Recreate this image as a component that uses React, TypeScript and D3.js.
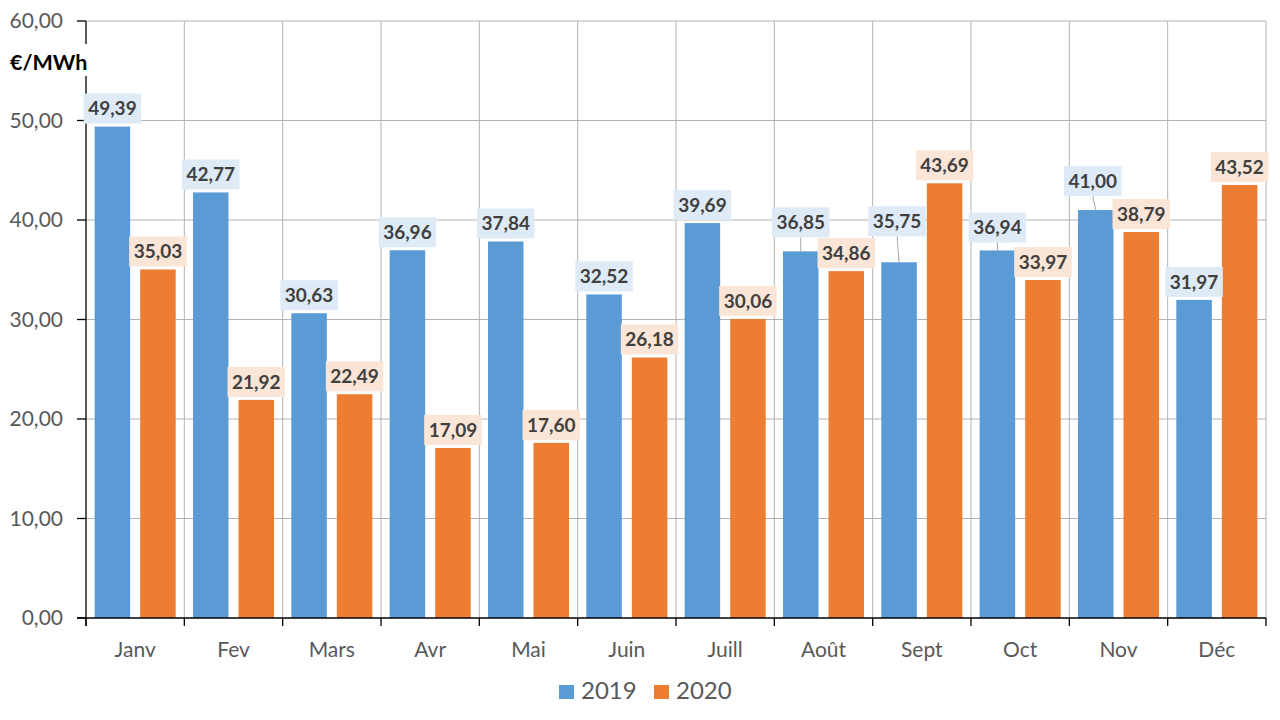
import React, { useEffect, useRef } from 'react'
import * as d3 from 'd3'

const months = ['Janv', 'Fev', 'Mars', 'Avr', 'Mai', 'Juin', 'Juill', 'Août', 'Sept', 'Oct', 'Nov', 'Déc']
const values2019 = [49.39, 42.77, 30.63, 36.96, 37.84, 32.52, 39.69, 36.85, 35.75, 36.94, 41.0, 31.97]
const values2020 = [35.03, 21.92, 22.49, 17.09, 17.6, 26.18, 30.06, 34.86, 43.69, 33.97, 38.79, 43.52]
const yTicks = [0, 10, 20, 30, 40, 50, 60]
const seriesNames = ['2019', '2020']

// labels Excel moved up to avoid overlaps (px lift, px shift)
const lift2019 = [0, 0, 0, 0, 0, 0, 0, 11, 23, 5, 11, 0]
const shift2019 = [0, 0, 0, 0, 0, 0, 0, 0, -2, 0, -3, 0]

const colors = ['#5B9BD5', '#ED7D31']
const labelBg = ['#DEEBF7', '#FBE5D6']
const font = 'Lato, "Open Sans", sans-serif'

export default function App() {
  const svgRef = useRef<SVGSVGElement>(null)

  useEffect(() => {
    if (!svgRef.current) return
    const svg = d3.select(svgRef.current)
    svg.selectAll('*').remove()

    const left = 86
    const right = 1266
    const top = 21
    const bottom = 618

    const x = d3.scaleBand<string>().domain(months).range([left, right]).padding(0)
    const xs = d3.scaleBand<string>()
      .domain(seriesNames)
      .range([0, x.bandwidth()])
      .paddingInner(0.22)
      .paddingOuter(0.19)
    const y = d3.scaleLinear().domain([0, 60]).range([bottom, top])

    // Horizontal grid
    svg.append('g')
      .selectAll('line')
      .data(yTicks.filter(t => t > 0))
      .enter()
      .append('line')
      .attr('x1', left)
      .attr('x2', right)
      .attr('y1', d => y(d))
      .attr('y2', d => y(d))
      .attr('stroke', '#B3B3B3')
      .attr('stroke-width', 1)

    // Vertical grid at category boundaries
    const bounds = months.map(m => x(m)!).concat([right])
    svg.append('g')
      .selectAll('line')
      .data(bounds.slice(1))
      .enter()
      .append('line')
      .attr('x1', d => d)
      .attr('x2', d => d)
      .attr('y1', top)
      .attr('y2', bottom)
      .attr('stroke', '#B3B3B3')
      .attr('stroke-width', 1)

    // Bars
    const series = [values2019, values2020]
    series.forEach((vals, si) => {
      svg.append('g')
        .selectAll('rect')
        .data(vals)
        .enter()
        .append('rect')
        .attr('x', (_, i) => x(months[i])! + xs(seriesNames[si])!)
        .attr('y', d => y(d))
        .attr('width', xs.bandwidth())
        .attr('height', d => bottom - y(d))
        .attr('fill', colors[si])
    })

    // Axes
    const axis = svg.append('g').attr('stroke', '#000').attr('stroke-width', 1.3)
    axis.append('line').attr('x1', left).attr('x2', left).attr('y1', top).attr('y2', bottom + 8)
    axis.append('line').attr('x1', left - 9).attr('x2', right).attr('y1', bottom).attr('y2', bottom)
    yTicks.forEach(t => {
      axis.append('line').attr('x1', left - 9).attr('x2', left).attr('y1', y(t)).attr('y2', y(t))
    })
    bounds.forEach(b => {
      axis.append('line').attr('x1', b).attr('x2', b).attr('y1', bottom).attr('y2', bottom + 8)
    })

    // Y tick labels
    svg.append('g')
      .selectAll('text')
      .data(yTicks)
      .enter()
      .append('text')
      .attr('x', 63)
      .attr('y', d => y(d))
      .attr('dy', '0.35em')
      .attr('text-anchor', 'end')
      .attr('fill', '#595959')
      .style('font-family', font)
      .style('font-size', '21px')
      .text(d => d3.format('.2f')(d).replace('.', ','))

    // Month labels
    svg.append('g')
      .selectAll('text')
      .data(months)
      .enter()
      .append('text')
      .attr('x', d => x(d)! + x.bandwidth() / 2)
      .attr('y', 657)
      .attr('text-anchor', 'middle')
      .attr('fill', '#595959')
      .style('font-family', font)
      .style('font-size', '21px')
      .text(d => d)

    // Unit label (white box hides the axis behind it)
    svg.append('rect')
      .attr('x', 8)
      .attr('y', 44)
      .attr('width', 82)
      .attr('height', 32)
      .attr('fill', '#fff')
    svg.append('text')
      .attr('x', 10)
      .attr('y', 70)
      .attr('fill', '#000')
      .style('font-family', font)
      .style('font-size', '21.5px')
      .style('font-weight', 'bold')
      .text('€/MWh')

    // Data labels
    series.forEach((vals, si) => {
      vals.forEach((v, i) => {
        const cx = x(months[i])! + xs(seriesNames[si])! + xs.bandwidth() / 2
        const lift = si === 0 ? lift2019[i] : 0
        const dx = si === 0 ? shift2019[i] : 0
        const barTop = y(v)
        const boxBottom = barTop - 3 - lift
        const boxH = 30
        const lx = cx + dx

        if (lift > 0) {
          svg.append('line')
            .attr('x1', cx)
            .attr('x2', lx)
            .attr('y1', barTop)
            .attr('y2', boxBottom)
            .attr('stroke', '#A6A6A6')
            .attr('stroke-width', 1)
        }

        const g = svg.append('g')
        const rect = g.append('rect').attr('fill', labelBg[si])
        const text = g.append('text')
          .attr('x', lx)
          .attr('y', boxBottom - boxH / 2)
          .attr('dy', '0.36em')
          .attr('text-anchor', 'middle')
          .attr('fill', '#404040')
          .style('font-family', font)
          .style('font-size', '19px')
          .style('font-weight', 'bold')
          .text(d3.format('.2f')(v).replace('.', ','))
        const w = (text.node() as SVGTextElement).getComputedTextLength() + 9
        rect
          .attr('x', lx - w / 2)
          .attr('y', boxBottom - boxH)
          .attr('width', w)
          .attr('height', boxH)
      })
    })

    // Legend
    const legend = svg.append('g')
    const legendItems = [
      { name: seriesNames[0], x: 559 },
      { name: seriesNames[1], x: 654 }
    ]
    legendItems.forEach((item, i) => {
      legend.append('rect')
        .attr('x', item.x)
        .attr('y', 685)
        .attr('width', 15)
        .attr('height', 14)
        .attr('fill', colors[i])
      legend.append('text')
        .attr('x', item.x + 22)
        .attr('y', 699)
        .attr('fill', '#595959')
        .style('font-family', font)
        .style('font-size', '24px')
        .text(item.name)
    })
  }, [])

  return (
    <div style={{ position: 'fixed', left: 0, top: 0, width: 1280, height: 720, background: '#fff' }}>
      <svg ref={svgRef} width={1280} height={720} style={{ display: 'block' }} />
    </div>
  )
}
